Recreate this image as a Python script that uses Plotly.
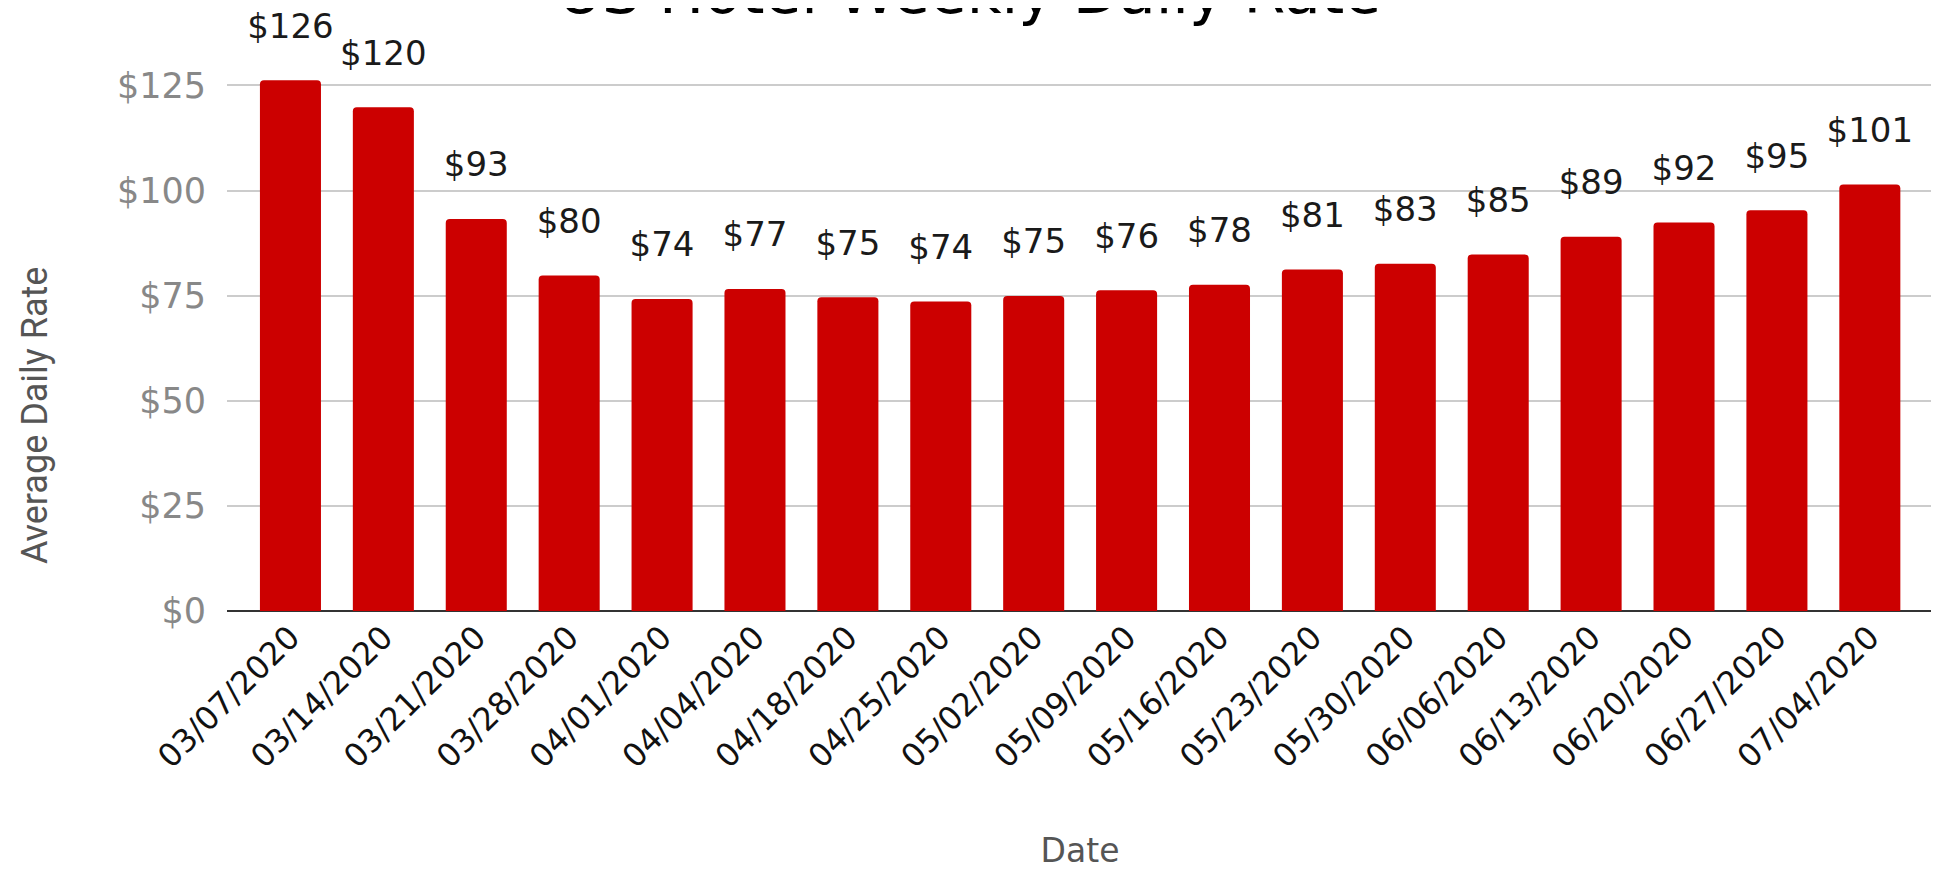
import plotly.graph_objects as go

dates = ["03/07/2020", "03/14/2020", "03/21/2020", "03/28/2020", "04/01/2020",
         "04/04/2020", "04/18/2020", "04/25/2020", "05/02/2020", "05/09/2020",
         "05/16/2020", "05/23/2020", "05/30/2020", "06/06/2020", "06/13/2020",
         "06/20/2020", "06/27/2020", "07/04/2020"]
adr = [126.2, 119.8, 93.2, 79.8, 74.2, 76.6, 74.6, 73.6, 74.9, 76.3,
       77.6, 81.2, 82.6, 84.8, 89.0, 92.4, 95.3, 101.4]

y_ticks = [0, 25, 50, 75, 100, 125]
y_tick_text = ["$0", "$25", "$50", "$75", "$100", "$125"]

bar_color = "#cc0000"
font_main = "DejaVu Sans"

fig = go.Figure()

fig.add_trace(go.Bar(
    x=dates,
    y=adr,
    marker=dict(color=bar_color, cornerradius=4, line=dict(width=0)),
    hovertemplate="%{x}<br>$%{y:.0f}<extra></extra>",
))

# value labels floated above each bar (invisible marker sets the gap)
fig.add_trace(go.Scatter(
    x=dates,
    y=adr,
    mode="markers+text",
    text=["$%d" % round(v) for v in adr],
    textposition="top center",
    textfont=dict(family=font_main, size=34, color="#1a1a1a"),
    marker=dict(size=53, opacity=0),
    hoverinfo="skip",
    cliponaxis=False,
))

# page body adds an 8px offset, margins below account for it
fig.update_layout(
    width=1939,
    height=869,
    margin=dict(l=219, r=14, t=0, b=266),
    paper_bgcolor="white",
    plot_bgcolor="white",
    showlegend=False,
    bargap=0.343,
    xaxis=dict(
        type="category",
        range=[-0.683, 17.68],
        automargin=False,
        tickangle=-45,
        tickfont=dict(family=font_main, size=32, color="#111111"),
        showgrid=False,
        showline=False,
        ticks="",
        title=dict(text="Date", font=dict(family=font_main, size=33, color="#555555"),
                   standoff=64),
    ),
    yaxis=dict(
        range=[0, 143.4],
        automargin=False,
        tickvals=y_ticks,
        ticktext=y_tick_text,
        tickfont=dict(family=font_main, size=35, color="#888888"),
        ticklabelstandoff=20,
        showgrid=True,
        gridcolor="#cccccc",
        gridwidth=2,
        zeroline=True,
        zerolinecolor="#333333",
        zerolinewidth=2,
        showline=False,
    ),
    annotations=[
        # chart title, mostly above the top edge as in the source image
        dict(
            text="US Hotel Weekly Daily Rate",
            xref="paper", yref="paper",
            x=0.4355, y=1.0265,
            xanchor="center", yanchor="middle",
            showarrow=False,
            font=dict(family=font_main, size=60, color="#000000"),
        ),
        dict(
            text="Average Daily Rate",
            xref="paper", yref="paper",
            x=-0.1128, y=0.3242,
            xanchor="center", yanchor="middle",
            textangle=-90,
            showarrow=False,
            font=dict(family="Roboto", size=36, color="#555555"),
        ),
    ],
)

fig.write_html("out.html")
